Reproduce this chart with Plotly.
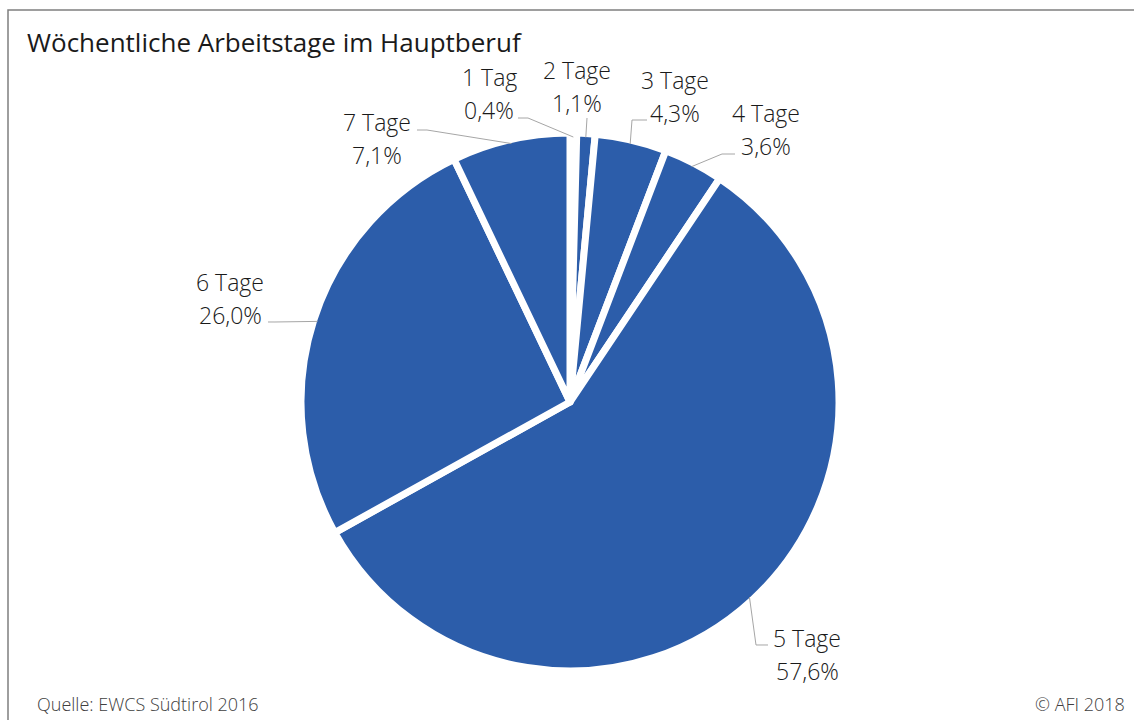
import math
import plotly.graph_objects as go

# ---- data ----
categories = ["1 Tag", "2 Tage", "3 Tage", "4 Tage", "5 Tage", "6 Tage", "7 Tage"]
shares = [0.4, 1.1, 4.3, 3.6, 57.6, 26.0, 7.1]
title_text = "Wöchentliche Arbeitstage im Hauptberuf"
source_text = "Quelle: EWCS Südtirol 2016"
copyright_text = "© AFI 2018"

# ---- layout constants (pixels) ----
W, H = 1134, 720
CX, CY, R = 570, 402, 265
DOMAIN_PAD = 4  # plotly draws the pie slightly inside its domain
BLUE = "#2C5DAA"
LINE_GRAY = "#A6A6A6"
FONT = "Open Sans"

# label placement: centre of first text line, leader elbow and end
label_layout = [
    dict(x=489, y=77, elbow=(528, 118), end=(518, 118)),
    dict(x=577, y=70, elbow=None, end=(587, 118)),
    dict(x=675, y=80, elbow=(632, 120), end=(647, 120)),
    dict(x=766, y=113, elbow=(722, 154), end=(735, 154)),
    dict(x=807, y=638, elbow=(756, 645), end=(768, 645)),
    dict(x=230, y=282, elbow=(275, 322), end=(268, 322)),
    dict(x=377, y=122, elbow=(427, 130), end=(417, 130)),
]
LINE_GAP = 33


def px(x):
    return x / W


def py(y):
    return 1 - y / H


RD = R + DOMAIN_PAD
fig = go.Figure()
fig.add_trace(go.Pie(
    labels=categories,
    values=shares,
    sort=False,
    direction="clockwise",
    rotation=0,
    marker=dict(colors=[BLUE] * len(shares), line=dict(color="white", width=7)),
    textinfo="none",
    hovertemplate="%{label}: %{value:.1f}%<extra></extra>",
    showlegend=False,
    domain=dict(x=[px(CX - RD), px(CX + RD)], y=[py(CY + RD), py(CY - RD)]),
))

annotations = []
shapes = []
total = sum(shares)
cum = 0.0
for cat, val, lay in zip(categories, shares, label_layout):
    mid = (cum + val / 2) / total * 2 * math.pi
    cum += val
    ex = CX + R * math.sin(mid)
    ey = CY - R * math.cos(mid)
    pct = f"{val:.1f}".replace(".", ",") + "%"
    for i, t in enumerate([cat, pct]):
        annotations.append(dict(
            x=px(lay["x"]), y=py(lay["y"] + i * LINE_GAP), xref="paper", yref="paper",
            text=t, showarrow=False, xanchor="center", yanchor="middle",
            font=dict(family=FONT, size=23, color="#1A1A1A", weight=300),
        ))
    pts = [(ex, ey)]
    if lay["elbow"] is not None:
        pts.append(lay["elbow"])
    pts.append(lay["end"])
    path = "M " + " L ".join(f"{px(a):.5f},{py(b):.5f}" for a, b in pts)
    shapes.append(dict(type="path", path=path, xref="paper", yref="paper",
                       line=dict(color=LINE_GRAY, width=1)))

# frame
shapes.append(dict(type="rect", xref="paper", yref="paper",
                   x0=px(8), x1=px(W + 10), y0=py(H + 10), y1=py(10),
                   line=dict(color="#7F7F7F", width=1.5), layer="below"))

annotations.append(dict(x=px(25), y=py(42), xref="paper", yref="paper", text=title_text,
                        showarrow=False, xanchor="left", yanchor="middle",
                        font=dict(family=FONT, size=26, color="#1A1A1A")))
annotations.append(dict(x=px(35), y=py(704), xref="paper", yref="paper", text=source_text,
                        showarrow=False, xanchor="left", yanchor="middle",
                        font=dict(family=FONT, size=18, color="#404040", weight=300)))
annotations.append(dict(x=px(1127), y=py(704), xref="paper", yref="paper", text=copyright_text,
                        showarrow=False, xanchor="right", yanchor="middle",
                        font=dict(family=FONT, size=18, color="#404040", weight=300)))

fig.update_layout(
    width=W, height=H,
    margin=dict(l=0, r=0, t=0, b=0),
    paper_bgcolor="white", plot_bgcolor="white",
    annotations=annotations, shapes=shapes,
)

fig.write_html("out.html")
